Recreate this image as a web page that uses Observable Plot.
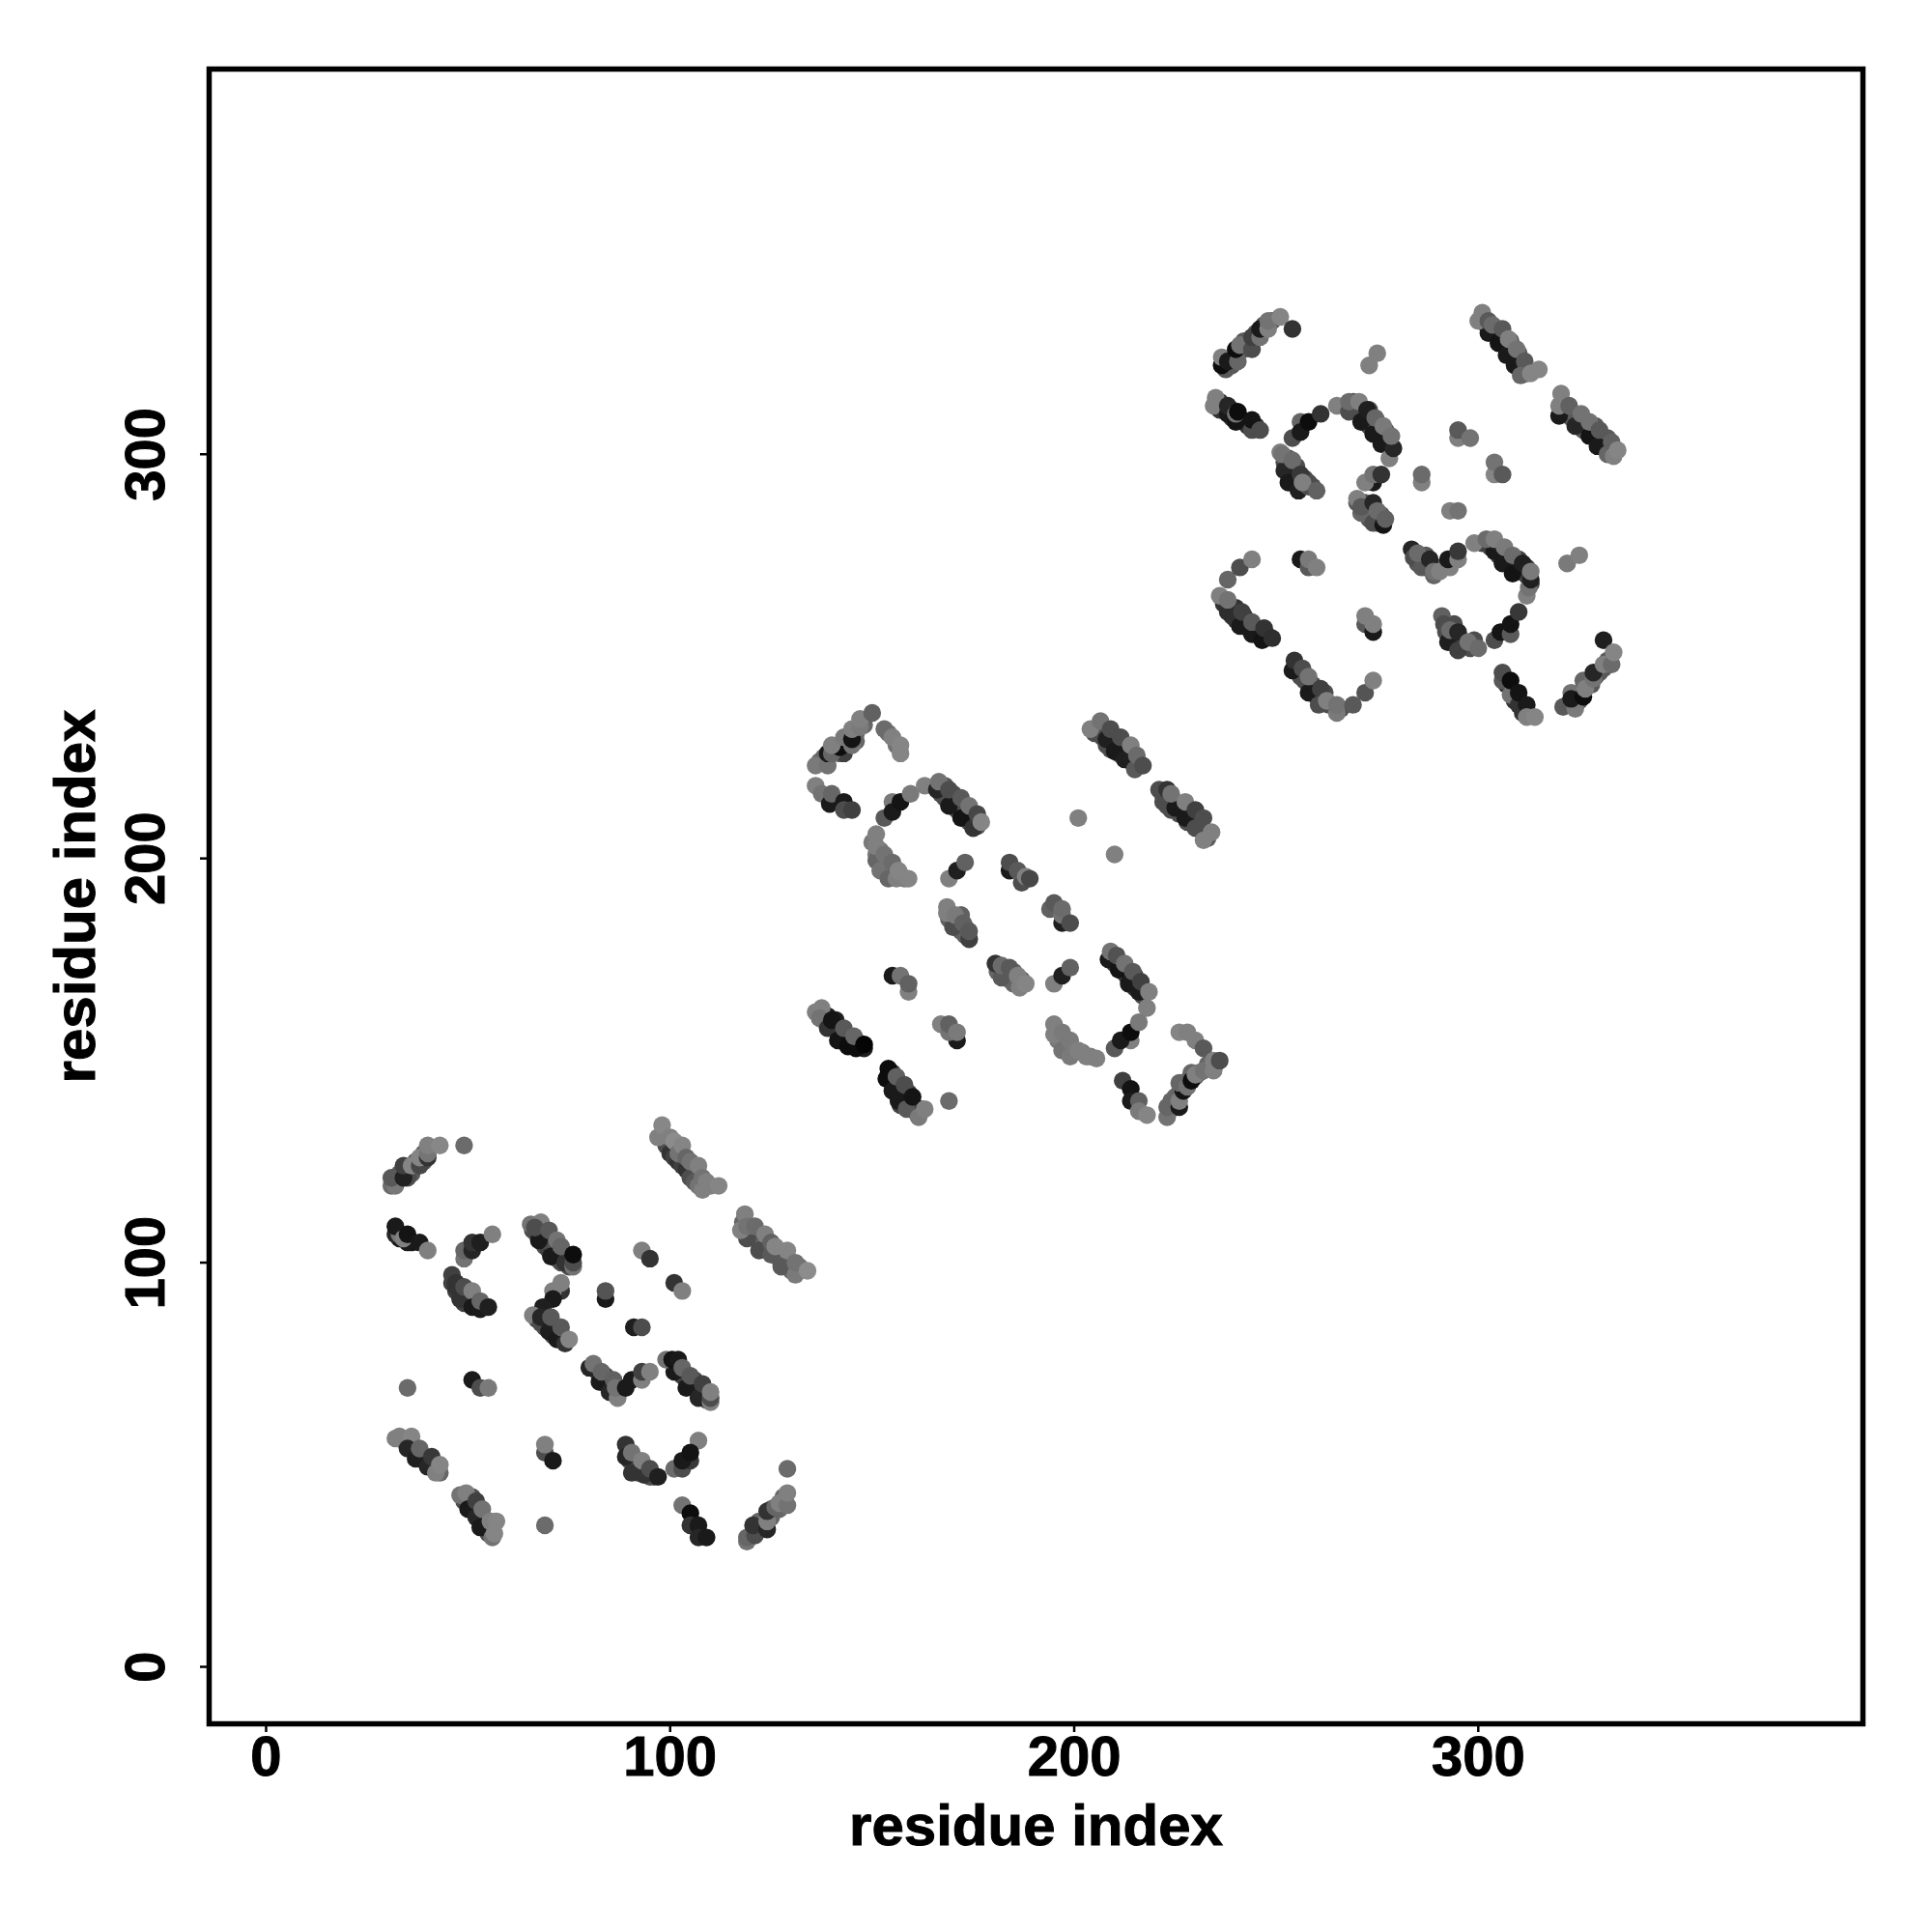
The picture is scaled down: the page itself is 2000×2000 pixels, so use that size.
<!DOCTYPE html>
<html><head><meta charset="utf-8">
<script src="https://cdn.jsdelivr.net/npm/d3@7"></script>
<script src="https://cdn.jsdelivr.net/npm/@observablehq/plot@0.6"></script>
<style>html,body{margin:0;padding:0;background:#fff} svg text{stroke:#000;stroke-width:1px}</style></head>
<body><div id="chart"></div>
<script>
// each contact: [residue index x, residue index y, grey level 0..1]; array order is draw order
const underA = [
[99,130,.35],[100,129,.35],[101,128,.3],[102,127,.35],[103,126,.3],[104,125,.35],[105,124,.3],[106,123,.35],[107,122,.3],[108,120,.35],
[118,110,.4],[119,108,.4],[120,107,.35],[121,106,.4],[122,105,.35],[123,104,.4],[124,103,.35],[125,103,.4],[126,102,.4],[127,101,.4],[128,100,.4],[129,99,.4],[130,98,.4],[132,99,.45],
[66,108,.3],[67,107,.3],[68,106,.25],[69,104,.3],[70,103,.25],[71,102,.3],[72,101,.25],[73,100,.3],[74,101,.3],[75,100,.3],[69,106,.3],[71,104,.3],[73,102,.3],[75,99,.3],
[67,86,.3],[69,84,.3],[71,82,.3],[72,83,.3],[73,81,.3],[71,84,.3],
[82,73,.3],[83,71,.3],[84,70,.3],[85,69,.3],[86,68,.3],[84,72,.3],[87,68,.3],
[101,75,.25],[102,73,.25],[103,72,.25],[104,71,.25],[105,70,.25],[106,69,.25],[107,68,.25],[108,67,.25],[106,71,.25],[108,68,.25],[109,66,.3],
[34,56,.3],[35,55,.3],[36,54,.3],[37,53,.3],[38,52,.3],[39,51,.3],[40,51,.3],[41,50,.3],[42,49,.3],[43,48,.4],
[49,41,.3],[50,41,.3],[51,39,.3],[52,38,.3],[53,37,.3],[54,36,.3],[55,35,.3],[55,33,.3],[51,42,.3],
[90,51,.3],[91,50,.3],[92,49,.3],[92,48,.3],[94,48,.3],[96,47,.3],[95,47,.3],
[46,95,.25],[47,93,.25],[49,92,.25],[50,91,.25],[50,90,.25],[52,89,.25],[48,93,.25],[49,90,.25],
[33,122,.35],[35,123,.35],[37,125,.35],[39,125,.35],[36,122,.35],[39,127,.35],
[33,106,.1],[36,105,.1],
[122,34,.4],[123,35,.4],[125,37,.4],[122,36,.4],[127,39,.4],[128,41,.4],[125,39,.4],[128,42,.4]
];
const underB = [
[137,224,.4],[138,225,.4],[141,227,.4],[142,226,.4],[144,228,.4],[146,231,.4],[148,233,.4],[154,231,.45],[156,228,.45],[143,228,.4],[146,229,.4],
[167,216,.3],[168,215,.3],[170,214,.3],[171,212,.3],[173,211,.3],[174,209,.3],[175,209,.3],[170,216,.3],[172,213,.3],[174,211,.3],[176,208,.3],[168,218,.35],
[150,204,.48],[151,201,.48],[152,199,.48],[153,198,.48],[155,196,.48],[152,202,.48],[153,199,.48],[157,196,.48],[158,195,.48],
[205,231,.3],[206,231,.3],[207,230,.3],[208,228,.3],[209,227,.3],[210,229,.3],[211,226,.3],[212,227,.3],[213,225,.3],[214,224,.3],[216,223,.3],[215,224,.3],
[221,217,.3],[222,214,.3],[223,213,.3],[224,212,.3],[225,214,.3],[226,211,.3],[227,212,.3],[228,209,.3],[229,210,.3],[230,209,.3],[231,208,.3],[232,207,.3],[233,205,.35],
[169,185,.38],[171,184,.38],[172,182,.38],[173,183,.38],[173,181,.38],[172,186,.38],
[181,172,.4],[183,171,.4],[184,170,.4],[185,169,.4],[185,172,.4],[187,170,.4],
[209,175,.25],[210,174,.25],[211,174,.25],[212,172,.25],[213,171,.25],[214,170,.25],[215,168,.25],[216,168,.25],[217,167,.25],[215,171,.25],[217,166,.3],
[196,155,.48],[198,153,.48],[197,155,.48],[200,152,.48],[202,152,.48],[204,151,.48],[199,152,.48],
[137,162,.12],[138,160,.12],[139,161,.12],[141,158,.12],[142,157,.12],[143,155,.12],[144,155,.12],[145,154,.12],[146,155,.12],[147,154,.12],[148,153,.12],[141,160,.12],[143,156,.12],
[154,146,.25],[155,145,.25],[155,147,.25],[156,144,.25],[157,142,.25],[158,141,.25],[159,139,.25],[160,138,.25],[161,137,.25],[157,139,.25],[159,142,.25],[162,138,.25],
[224,138,.4],[224,140,.4],[225,141,.4],[227,144,.4],[228,145,.4],[230,146,.4],[231,147,.4],[233,149,.4],[225,139,.4],[226,142,.4],[229,147,.4]
];
const underC = [
[238,322,.35],[239,324,.35],[240,325,.35],[242,326,.35],[243,327,.35],[245,330,.35],[247,332,.35],[249,333,.35],[242,328,.35],[244,328,.35],[239,322,.35],
[236,311,.2],[236,313,.2],[239,309,.2],[241,309,.2],[242,308,.2],[243,307,.2],[245,307,.2],[239,311,.2],
[267,312,.3],[269,311,.3],[269,313,.3],[271,310,.3],[272,309,.3],[273,307,.3],[275,305,.3],[276,305,.3],[277,303,.3],[277,306,.3],[278,303,.3],[275,308,.3],[273,311,.3],
[252,298,.3],[253,297,.3],[254,295,.3],[255,293,.3],[256,292,.3],[257,294,.3],[255,297,.3],[258,293,.3],[253,299,.3],[259,292,.3],
[270,288,.35],[272,286,.35],[273,284,.35],[275,283,.35],[275,284,.35],[272,288,.35],[276,285,.35],
[284,276,.35],[285,273,.35],[287,272,.35],[287,275,.35],[288,272,.35],[289,272,.35],[291,272,.35],
[301,278,.25],[303,277,.25],[305,275,.25],[305,277,.25],[307,274,.25],[307,275,.25],[309,272,.25],[310,271,.25],[310,274,.25],[312,270,.25],[312,272,.25],[313,268,.25],
[292,256,.3],[293,254,.3],[294,254,.3],[296,254,.3],[296,253,.3],[298,252,.3],[299,254,.3],[294,258,.3],
[237,263,.2],[239,260,.2],[240,259,.2],[242,258,.2],[243,257,.2],[245,256,.2],[246,255,.2],[248,255,.2],[240,262,.2],[242,260,.2],
[255,247,.3],[256,245,.3],[257,244,.3],[258,243,.3],[259,241,.3],[259,243,.3],[260,240,.3],[262,241,.3],[263,238,.3],[264,238,.3],[266,237,.3],
[301,333,.35],[302,332,.35],[304,330,.35],[305,329,.35],[306,328,.35],[307,327,.35],[308,326,.35],[309,324,.35],[310,323,.35],[311,321,.35],[312,320,.35],[305,331,.35],[308,328,.35],[310,325,.35],
[321,311,.35],[322,310,.35],[323,309,.35],[324,309,.35],[325,307,.35],[326,306,.35],[327,306,.35],[328,305,.35],[329,304,.35],[330,303,.35],[331,302,.35],[332,301,.35],[326,308,.35],[329,307,.35],[332,304,.35],
[322,238,.35],[324,240,.35],[325,241,.35],[327,243,.35],[328,243,.35],[329,245,.35],[330,246,.35],[332,249,.35],[331,247,.35],[325,239,.35],
[307,243,.2],[309,241,.2],[309,239,.2],[311,238,.2],[311,236,.2]
];
const domainA = [
[31,119,.42],[32,119,.47],[31,121,.35],[35,121,.3],[34,121,.13],[34,124,.25],[36,124,.52],[38,124,.28],[38,126,.52],[40,126,.2],[40,127,.46],[40,129,.5],[43,129,.53],[49,129,.42],
[99,129,.3],[100,127,.2],[101,126,.25],[102,125,.2],[103,124,.25],[104,123,.2],[105,121,.3],[106,120,.35],[107,119,.45],[108,118,.5],[97,131,.5],[98,134,.53],[100,131,.5],[101,130,.55],[102,127,.45],[103,129,.52],[104,126,.4],[105,125,.45],[107,124,.5],[108,121,.45],[109,120,.5],[110,119,.5],[112,119,.52],
[119,106,.3],[122,103,.3],[125,102,.35],[127.5,99,.35],[131,97,.48],[117.5,108,.5],[118.5,112,.5],[119,109,.45],[121,109,.42],[123.5,107,.5],[125,105,.38],[126,104,.52],[129,103,.52],[131,100,.45],[134,98,.55],
[32,107,.15],[33,107,.45],[32,109,.1],[35,105,.1],[34,106,.5],[35,107,.08],[38,105,.1],[40,103,.5],
[49,101,.45],[49,103,.4],[51,103,.15],[51,105,.2],[53,105,.12],[56,107,.5],
[47,94,.2],[48,91,.2],[46,97,.25],[47,95,.2],[49,94,.3],[51,93,.5],[51,89,.1],[53,88.5,.1],[53,90.5,.4],[55,89,.12],
[67.5,105.5,.1],[70.5,101.5,.1],[74,100,.2],[65.5,109.5,.45],[68,110,.5],[66.5,108.7,.3],[70,108,.35],[72,105.5,.45],[73,104,.4],[76,99,.45],[76,100,.3],[76,102,.05],
[73,93,.2],[71,93,.5],[73,95,.5],[71,91,.1],[68.5,89,.12],
[66,87,.5],[68,85,.3],[68,86.5,.15],[70,83,.12],[72,81,.1],[74,80,.2],[70.5,86.5,.35],[73,84,.35],[75,81,.52],
[93,103,.5],[95,101,.2],[84,91,.1],[84,93,.33],[101,95,.2],[103,93,.5],[91,84,.12],[93,84,.3],
[82.5,70.5,.1],[85,68,.15],[87,66.5,.5],[80,74,.15],[81,75,.45],[83,73,.4],[86,71,.38],[86.5,69,.45],[89,69,.1],
[90.5,71,.1],[93,71,.5],[93,73,.25],[95,73,.5],
[101,73,.1],[104,69,.1],[107,66.5,.15],[99,76,.45],[100.5,76,.08],[102,76,.1],[103,74,.4],[105,72,.35],[108,70,.25],[110,65.5,.5],[110,66.5,.3],[110,68,.5],
[35,69,.42],[51,71,.1],[53,69,.3],[55,69,.48],
[32,56.5,.5],[33,57,.5],[36,57,.52],[35,54,.15],[37,51.5,.12],[38,54,.4],[40,49.5,.15],[41,52,.22],[42,48,.5],[43,50,.52],
[69,53,.3],[69,55,.5],[71,51,.1],
[89,55,.2],[89,52,.15],[90.5,48,.2],[90.5,53,.45],[93.5,47.5,.2],[93,51,.5],[95,49,.3],[97,47,.12],
[107,56,.5],[101,49,.42],[103,49,.3],[105,51,.22],[103,51,.1],[105,53,.08],
[48,42.5,.45],[49.5,43,.5],[50,39,.1],[52,41,.25],[52,37,.15],[53.5,39,.45],[53,34.5,.1],[55.5,36,.5],[56,32,.45],[56.5,33,.52],[57,36,.52],[69,35,.42],
[103,40,.45],[105,38,.05],[105,35,.2],[107,35,.1],[107,32,.15],[109,32,.1],
[119,31,.45],[119,32,.4],[121,32.5,.3],[120.5,35,.2],[124,34,.15],[124,36,.5],[124,38.5,.2],[126,39.5,.4],[127,40.5,.5],[129,40,.45],[129,43,.5],[129,49,.42]
];
const domainB = [
[136,223,.48],[139,223,.45],[139,226,.1],[143,226,.25],[140,226,.4],[142,227.5,.05],[145,228,.45],[140,228,.5],[143,230,.48],[145,229.5,.08],[145,232,.5],[147,232.5,.48],[147,234.5,.5],[153,232,.42],[155,230,.5],[157,226,.52],[157,228,.52],[150,236,.38],
[136,218,.5],[137.5,216,.45],[139.5,213.5,.1],[140,216,.4],[143,214,.1],[143,212,.3],[145,212,.25],
[153,210,.35],[155,214,.48],[155,211.5,.1],[157,214,.08],[159.5,216,.48],[163,218,.5],
[169,213,.1],[172,210,.08],[175,207.5,.2],[166,217,.15],[166.5,219,.45],[169,217,.3],[172,215,.35],[174,213,.45],[176,211,.28],[177,209,.52],
[151,199.5,.4],[152,197,.45],[154,195,.4],[156,195,.5],[151,206,.5],[151,203,.5],[153,201,.45],[155,199,.42],[156.5,197,.52],[159,195,.52],
[169,195,.5],[171,197,.12],[173,199,.38],
[184,197,.1],[184,199,.3],[187,194,.3],[186,197,.35],[188,195.5,.5],[189,195,.28],
[194,187.5,.38],[195,189,.35],[197,184,.12],[197,186,.45],[197,187.5,.42],[199,184,.3],
[201,210,.5],[210,201,.5],
[204,232,.5],[206.5,234,.45],[208,229.5,.12],[210,226.5,.1],[212.5,224.5,.12],[215,222,.35],[209,232,.3],[211.5,230,.3],[214,228,.5],[215.5,225.5,.42],[217,223,.3],
[222,215.5,.3],[223,217,.2],[225,212.5,.1],[227.5,210,.1],[230,207.5,.3],[224,216,.45],[227.5,214,.5],[230,212,.25],[232,204.5,.5],[232,210,.3],[234,206.5,.5],
[170,183,.3],[168.5,188,.5],[168.5,186.5,.5],[170.5,186,.48],[174,180,.25],[172.5,184,.38],[174,182,.35],
[182,170.5,.35],[180.5,174,.2],[182,173.5,.42],[184,173,.35],[186.5,168,.5],[186,171,.5],[188,169,.52],
[195,169,.5],[197,171,.12],[199,173,.38],
[208.5,175,.1],[211,172.5,.08],[213.5,169,.1],[216,167,.1],[209,177,.45],[210.5,176,.32],[212.5,174,.45],[214.5,172,.35],[216.5,169.5,.25],[218,163,.5],[218.5,167,.5],
[210,153,.35],[214,155,.5],[211.5,155,.1],[214,157,.05],[216,159.5,.48],
[195,159,.5],[195,156.5,.5],[197,152.5,.45],[197,157,.48],[199,151,.48],[199,155,.48],[201,152.5,.5],[203,151,.5],[205.5,150.5,.5],
[212,145,.25],[214,143,.08],[214,140,.1],[216,140,.38],[216,137.5,.48],[218,136.5,.52],
[226,157,.52],[228,157,.5],[230,155,.5],[232,153,.35],
[223,136,.45],[223,138.5,.4],[226,138.5,.1],[226,140,.5],[227,142.5,.08],[226,144.5,.4],[228,143.5,.45],[229,145,.05],[230,146.5,.5],[232,147.5,.45],[234.5,147.5,.5],[234.5,150,.5],[236,150,.3],
[136,162,.5],[137.5,163,.5],[137,160.5,.45],[139,158,.2],[141.5,155,.08],[144,153.5,.05],[146,153,.05],[140,160,.08],[143,158,.35],[145.5,156,.4],[148,154,.02],
[153.5,145.5,.05],[154,148,.05],[155,142.5,.1],[156,146,.38],[156.5,140,.1],[158,144,.3],[158.5,138,.35],[160,141,.08],[161.5,136,.48],[163,138,.5],
[169,140,.42],
[155,171,.1],[157,171,.45],[159,167,.5],[159,169,.38],
[167,159,.5],[171,155,.1],[169,157,.45],[169,159,.38],[171,157,.48]
];
const domainC = [
[237.5,321,.35],[236.5,322,.05],[236.5,324,.5],[238,323,.1],[240.5,323,.4],[240,326,.05],[241,327,.45],[244,326,.3],[244,329,.25],[246,329,.45],[246,331,.1],[248,331,.5],[248,333,.45],[251,334,.52],[254,331,.2],
[234.5,312,.5],[235,314,.5],[238,310,.1],[238,312,.15],[240,308,.08],[240,310,.45],[240.5,310.5,.05],[244,306,.3],[244,308.5,.08],[246,306,.3],
[254,304,.3],[256,308,.4],[256,305.5,.1],[258,308,.05],[261,310,.2],
[265,312,.5],[268,310.5,.3],[268,313,.42],[271,308,.1],[274,305,.1],[276,302.5,.1],[278,299,.5],[270.5,313,.5],[272.5,311,.12],[274.5,309,.4],[276.5,307,.48],[279,301.5,.15],[278.5,304.5,.45],
[273,322,.5],[275,325,.5],
[252,296,.15],[253,293,.1],[255.5,291,.12],[251,300.5,.5],[251.5,300,.45],[254,298.5,.42],[256,295,.22],[258,292,.3],[256.5,293,.5],[260,291,.38],
[274,293,.1],[272,293,.5],[274,295,.45],[276,295,.2],
[270,289,.5],[271,285.5,.4],[271,287,.35],[274,283,.3],[274,288,.15],[276.5,282.5,.08],[275,286,.42],[277,284,.38],
[286,293,.5],[286,295,.42],[295,304,.5],[295,306,.35],[298,304,.45],
[304,295,.52],[304,298,.45],[306,295,.35],[293,286,.5],[295,286,.45],
[283.5,276.5,.15],[284,274.5,.3],[286,272,.35],[285,275.5,.42],[288,274,.15],[289,270,.4],[289,271,.45],[290.5,271,.5],
[293,272,.5],[292.5,274,.1],[295,274,.5],[295,276,.22],
[299,278,.5],[304,276,.1],[306,273,.1],[308.5,270.5,.08],[302,279,.42],[304,279,.5],[306.5,277,.48],[308.5,275,.42],[311,273,.12],[312,265,.5],[312.5,267,.45],[313,269,.12],[313,271,.48],
[304,254,.3],[305.5,256,.08],[308,255.5,.35],[308,258,.08],[310,261,.22],
[291,260,.38],[291.5,258,.3],[292.5,253.5,.12],[293,256.5,.42],[295,251.5,.25],[295,256,.15],[297.5,253.5,.45],[300,252,.42],
[241,257.5,.1],[244,255.5,.1],[246.5,254,.08],[238,261,.18],[236,265,.5],[238,264,.45],[241.5,261,.25],[244,258.5,.35],[247,257,.2],[249,254.5,.18],[238,269,.4],[241,272,.3],[244,274,.5],
[256,274,.1],[258,272,.35],[258,274,.48],[260,272,.5],
[254,246.5,.1],[254.5,249,.2],[258,241,.1],[256.5,247,.3],[258,245,.45],[261,242,.25],[260.5,238,.3],[262.5,239,.5],[265,236,.48],[265,238,.45],[269,238,.35],[272,241,.33],[274,244,.5],
[272,258,.35],[272,260,.5],[274,256,.1],[274,258,.5],
[322,273,.48],[325,275,.5],
[302.5,330,.1],[305,327.5,.08],[307,324.5,.1],[309,322,.1],[300,333,.5],[301,335,.5],[302.5,333,.35],[303.5,332,.42],[306,331,.35],[307.5,328.5,.5],[309.5,326,.45],[311.5,323,.35],[310.5,319.5,.4],[313,320,.52],[315,321,.52],
[320,309.5,.1],[324,307,.15],[327.5,304.5,.08],[329.5,302,.1],[320,312,.5],[320.5,315,.5],[322.5,312,.38],[325.5,310,.45],[327.5,308,.45],[330,306,.35],[332,300,.4],[333,303,.38],[333.5,299.5,.5],[334.5,301,.52],
[306,244,.35],[306,246,.3],[308,240.5,.45],[308,244,.05],[310,238,.2],[310,241,.08],[312,238,.1],[312,235,.5],[314,235,.52],
[321,237.5,.35],[324,237,.48],[323,241,.45],[323,239.5,.1],[326,240,.05],[326,244,.4],[326.5,242,.5],[328.5,244.5,.45],[328.5,246,.15],[331,248,.5],[333,248,.42],[331,254,.12],[333.5,251,.52]
];
const contacts = [...underA, ...underB, ...underC, ...domainA, ...domainB, ...domainC];
const tickValues = [0, 100, 200, 300];
const axisTitle = "residue index";

const font = {fontFamily: "'Liberation Sans', Arial, sans-serif", fontWeight: 700};
const chart = Plot.plot({
  width: 2000, height: 2000,
  marginLeft: 216, marginRight: 72, marginTop: 71, marginBottom: 216,
  style: {background: "#fff", ...font},
  x: {domain: [-14.1, 395.2]},
  y: {domain: [-14.1, 395.3]},
  color: {type: "linear", domain: [0, 1], range: ["#000", "#fff"]},
  marks: [
    Plot.dot(contacts, {x: d => d[0], y: d => d[1], fill: d => d[2], r: 9.2, stroke: "none"}),
    Plot.frame({stroke: "#000", strokeWidth: 5.5}),
    Plot.axisX({ticks: tickValues, tickSize: 9, tickPadding: 3, strokeWidth: 2.5, fontSize: 58, tickFormat: d => String(d), label: null, fill: "#000"}),
    Plot.axisY({ticks: tickValues, tickSize: 9, tickPadding: 38, strokeWidth: 2.5, fontSize: 58, tickRotate: -90, tickFormat: d => String(d), label: null, fill: "#000"}),
    Plot.text([axisTitle], {frameAnchor: "bottom", dy: 125, fontSize: 60, fontWeight: 700, fill: "#000"}),
    Plot.text([axisTitle], {frameAnchor: "left", textAnchor: "middle", dx: -138, rotate: -90, fontSize: 60, fontWeight: 700, fill: "#000"})
  ]
});
document.getElementById("chart").appendChild(chart);
</script></body></html>
